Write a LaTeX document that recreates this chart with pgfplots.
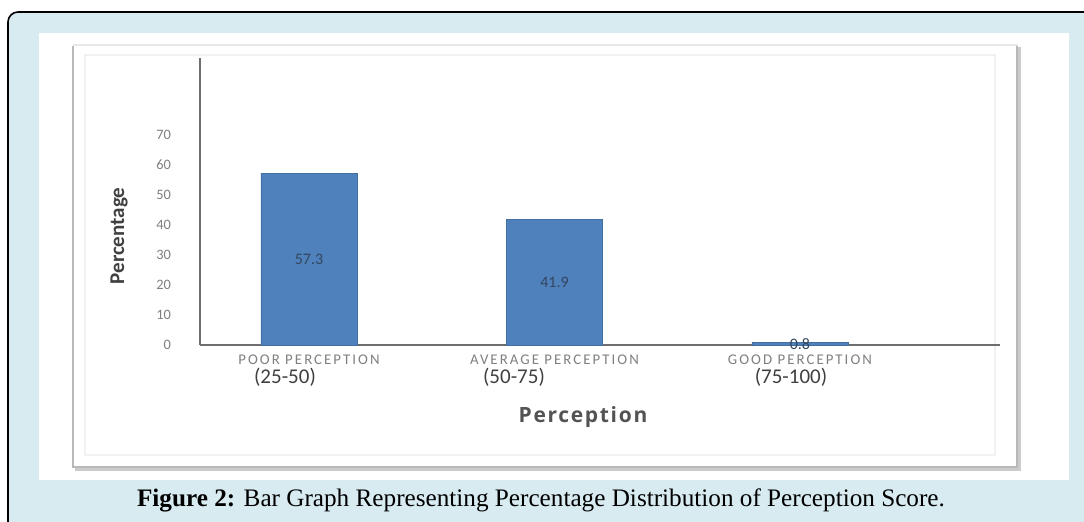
\documentclass[border=0pt]{standalone}
\usepackage{fontspec}
\setmainfont{Carlito}
\newfontfamily\capfont{Liberation Serif}
\newfontfamily\wideSans[LetterSpace=14]{Carlito}
\newfontfamily\xlabfont[LetterSpace=8]{Open Sans}
\usepackage{pgfplots}
\pgfplotsset{compat=1.18}
\definecolor{bg}{HTML}{D7EBF1}
\definecolor{barblue}{HTML}{4F81BD}
\definecolor{tickgray}{HTML}{808080}
\definecolor{axisgray}{HTML}{6E6E6E}
\definecolor{labdark}{HTML}{404040}
\definecolor{barlab}{HTML}{34465F}
\begin{document}
\begin{tikzpicture}[x=0.5pt,y=-0.5pt]
\path[use as bounding box] (0,0) rectangle (1084,521);
% outer light-blue frame
\fill[bg,rounded corners=5pt] (8,12) rectangle (1120,560);
\draw[black,line width=0.8pt,rounded corners=5pt] (1120,12) -- (8,12) -- (8,560);
% white panel
\fill[white] (39,33) rectangle (1069,480);
% chart frame with shadow
\draw[gray!18,line width=0.8pt] (73,45) -- (1018,45);
\draw[gray!40,line width=2.2pt] (1019,47) -- (1019,469) -- (75,469);
\draw[gray!55,line width=1pt] (73,46) -- (73,467) -- (1017,467) -- (1017,46);
\draw[gray!10,line width=0.6pt] (85,55) rectangle (995,455);
\begin{axis}[
  at={(100pt,-172.5pt)}, anchor=south west,
  scale only axis, width=400pt, height=143.5pt,
  xmin=-0.444, xmax=2.815, ymin=0, ymax=95.7,
  clip=false,
  axis lines=left,
  axis line style={-, draw=axisgray, line width=0.75pt},
  ytick={0,10,...,70},
  xtick={0,1,2},
  xticklabels={POOR PERCEPTION, AVERAGE PERCEPTION, GOOD PERCEPTION},
  major tick length=0pt,
  /pgf/number format/assume math mode=true,
  yticklabel style={font=\fontsize{7.2}{8}\selectfont, text=tickgray, xshift=-11pt},
  xticklabel style={font=\wideSans\fontsize{7.4}{8}\selectfont, text=tickgray, yshift=-1.5pt},
  ybar, bar width=48pt,
]
\addplot[ybar, fill=barblue, draw=barblue!85!black, line width=0.4pt,
  visualization depends on={rawy/2 \as \halfy},
  nodes near coords,
  nodes near coords style={font=\fontsize{8}{9}\selectfont, text=barlab, anchor=center,
     shift={(axis direction cs:0,-\halfy)},
     /pgf/number format/fixed, /pgf/number format/precision=1,
     /pgf/number format/fixed zerofill}
] table {
x y
0 57.3
1 41.9
2 0.8
};
\end{axis}
% second line of the category labels
\node[font=\fontsize{10.5}{11}\selectfont, text=labdark] at (285,377) {(25-50)};
\node[font=\fontsize{10.5}{11}\selectfont, text=labdark] at (514,377) {(50-75)};
\node[font=\fontsize{10.5}{11}\selectfont, text=labdark] at (791,377) {(75-100)};
% axis titles
\node[font=\xlabfont\bfseries\fontsize{10.5}{12}\selectfont, text=labdark!90!white] at (583,417) {Perception};
\node[rotate=90, font=\bfseries\fontsize{10.5}{12}\selectfont, text=labdark] at (119,236) {Percentage};
% caption
\node[font=\capfont\fontsize{12.6}{14}\selectfont] at (541,500) {\textbf{Figure 2:} Bar Graph Representing Percentage Distribution of Perception Score.};
\end{tikzpicture}
\end{document}
